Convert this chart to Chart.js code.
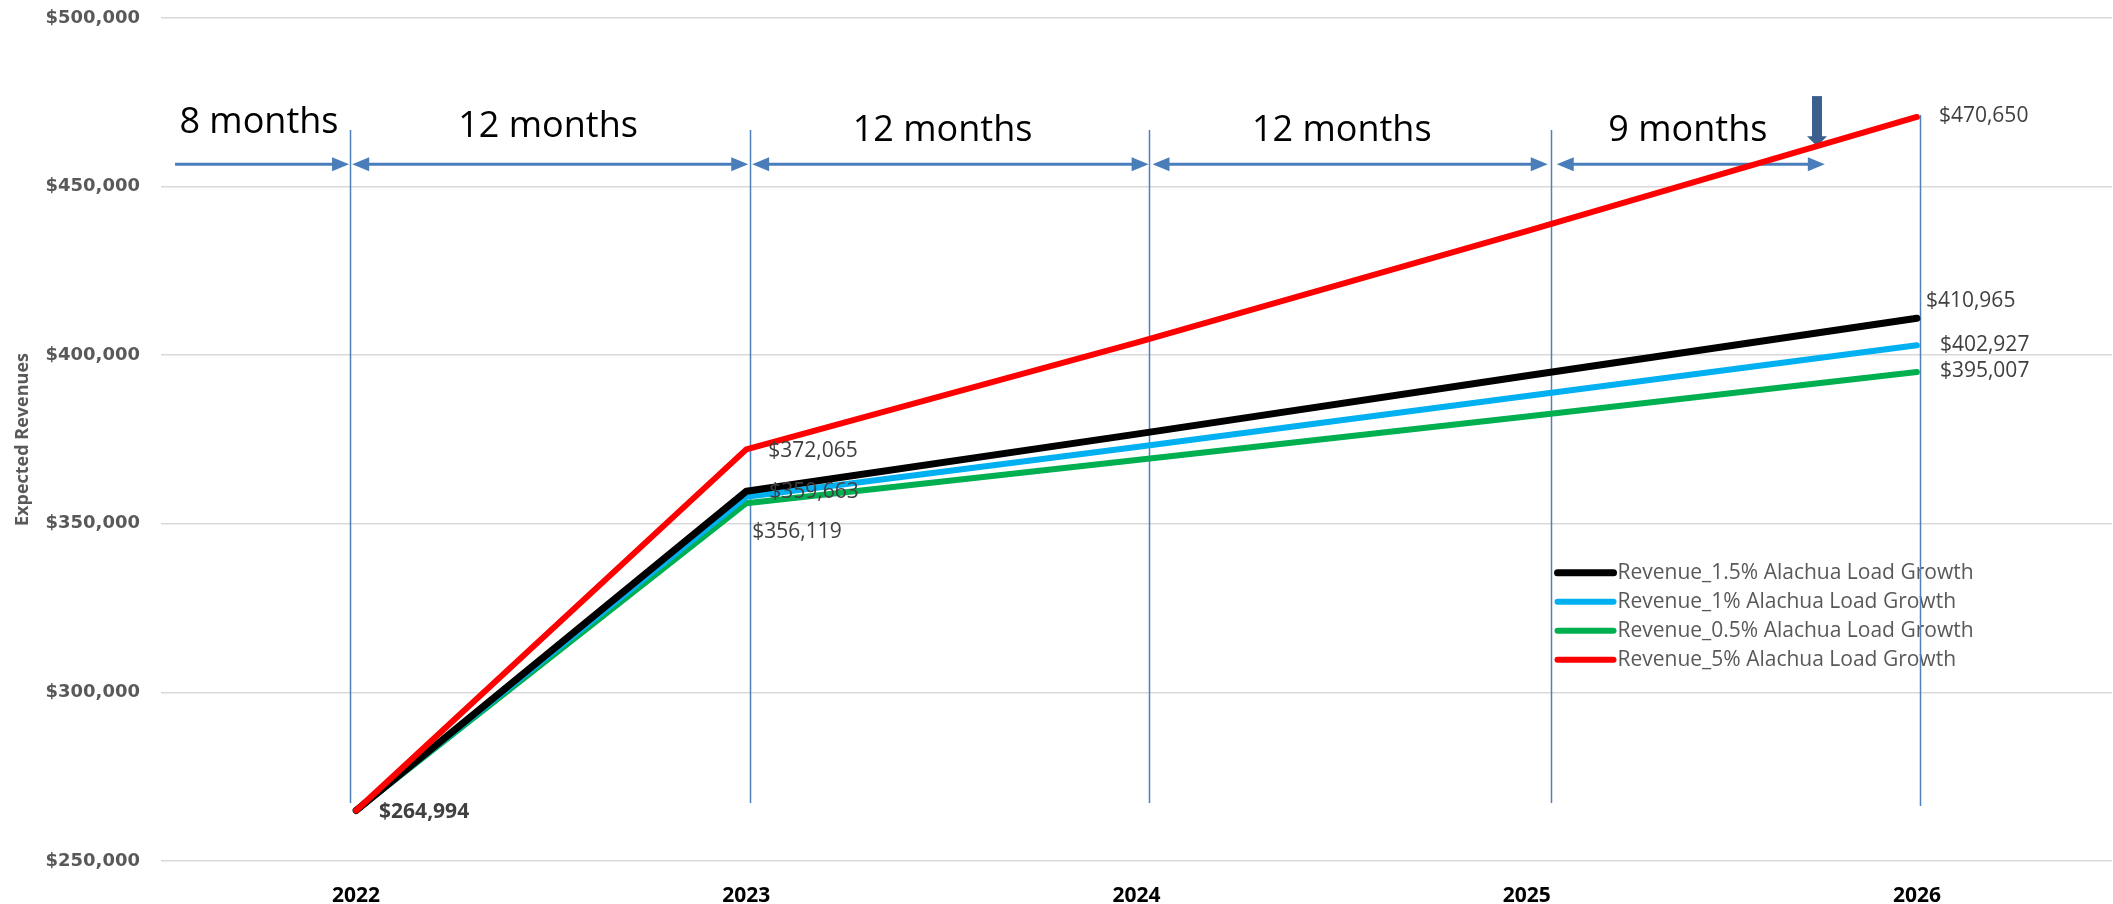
<!DOCTYPE html>
<html>
<head>
<meta charset="utf-8">
<script src="https://cdn.jsdelivr.net/npm/chart.js@4.4.0/dist/chart.umd.min.js"></script>
<style>
  html, body { margin: 0; padding: 0; background: #ffffff; }
  #wrap { width: 2113px; height: 904px; }
</style>
</head>
<body>
<div id="wrap"><canvas id="chart" width="2113" height="904"></canvas></div>
<script>
// Expected revenues under the four Alachua load-growth scenarios

const years = ['2022', '2023', '2024', '2025', '2026'];

const revenue15 = [264994, 359663, 376600, 393900, 410965];
const revenue10 = [264994, 358000, 372800, 387900, 402927];
const revenue05 = [264994, 356119, 368900, 381800, 395007];
const revenue50 = [264994, 372065, 403700, 436800, 470650];

const seriesNames = [
    'Revenue_1.5% Alachua Load Growth',
    'Revenue_1% Alachua Load Growth',
    'Revenue_0.5% Alachua Load Growth',
    'Revenue_5% Alachua Load Growth'
];

const periodLabels = ['8 months', '12 months', '12 months', '12 months', '9 months'];

const money = v => '$' + Math.round(v).toLocaleString('en-US');

// Overlay shapes (period markers), placed in axis units: x = category index, y = revenue
const guides = {
    lines: [
        { x: -0.015, top: 466750, bottom: 267230 },
        { x: 1.010, top: 466750, bottom: 267230 },
        { x: 2.033, top: 466750, bottom: 267230 },
        { x: 3.062, top: 466750, bottom: 267230 },
        { x: 4.008, top: 471200, bottom: 266330 }
    ],
    arrowY: 456650,
    arrows: [
        { from: -0.464, to: -0.018, startHead: false },
        { from: -0.010, to: 1.005, startHead: true },
        { from: 1.015, to: 2.031, startHead: true },
        { from: 2.041, to: 3.054, startHead: true },
        { from: 3.077, to: 3.764, startHead: true }
    ],
    labels: [
        { x: -0.249, y: 468830 },
        { x: 0.492, y: 467640 },
        { x: 1.503, y: 466450 },
        { x: 2.526, y: 466450 },
        { x: 3.413, y: 466450 }
    ],
    pointer: { x: 3.744, top: 476840, bottom: 462000 }
};

// Which points get a value label, and nudges in px
const valueLabels = [
    { ds: 0, i: 0, dx: 23, dy: 2, bold: true },
    { ds: 3, i: 1, dx: 22, dy: 2 },
    { ds: 0, i: 1, dx: 23, dy: 1 },
    { ds: 2, i: 1, dx: 6, dy: 29 },
    { ds: 3, i: 4, dx: 22, dy: -1 },
    { ds: 0, i: 4, dx: 9, dy: -17 },
    { ds: 1, i: 4, dx: 23, dy: 0 },
    { ds: 2, i: 4, dx: 23, dy: -1 }
];

function drawHead(ctx, x, y, dir) {
    ctx.beginPath();
    ctx.moveTo(x, y);
    ctx.lineTo(x - dir * 17, y - 7);
    ctx.lineTo(x - dir * 17, y + 7);
    ctx.closePath();
    ctx.fill();
}

const overlayPlugin = {
    id: 'overlay',
    beforeDatasetsDraw(chart) {
        const ctx = chart.ctx;
        const xs = chart.scales.x, ys = chart.scales.y;
        ctx.save();

        // legend box inside the plot
        const lx = xs.getPixelForValue(3.079);
        let ly = ys.getPixelForValue(335520);
        chart.data.datasets.forEach(ds => {
            ctx.strokeStyle = ds.borderColor;
            ctx.lineWidth = ds.borderWidth;
            ctx.lineCap = 'round';
            ctx.beginPath();
            ctx.moveTo(lx, ly);
            ctx.lineTo(lx + 56, ly);
            ctx.stroke();
            ctx.fillStyle = '#595959';
            ctx.font = '21px "Open Sans"';
            ctx.textAlign = 'left';
            ctx.textBaseline = 'middle';
            ctx.fillText(ds.label, lx + 60, ly);
            ly += 29;
        });

        // vertical period markers
        ctx.strokeStyle = '#4F81BD';
        ctx.lineWidth = 1.5;
        ctx.lineCap = 'butt';
        guides.lines.forEach(g => {
            const x = Math.round(xs.getPixelForValue(g.x)) + 0.5;
            ctx.beginPath();
            ctx.moveTo(x, ys.getPixelForValue(g.top));
            ctx.lineTo(x, ys.getPixelForValue(g.bottom));
            ctx.stroke();
        });

        // horizontal span arrows
        const ay = ys.getPixelForValue(guides.arrowY);
        ctx.strokeStyle = '#4A7EBB';
        ctx.fillStyle = '#4A7EBB';
        ctx.lineWidth = 3;
        guides.arrows.forEach(a => {
            const x0 = xs.getPixelForValue(a.from);
            const x1 = xs.getPixelForValue(a.to);
            ctx.beginPath();
            ctx.moveTo(a.startHead ? x0 + 10 : x0, ay);
            ctx.lineTo(x1 - 10, ay);
            ctx.stroke();
            drawHead(ctx, x1, ay, 1);
            if (a.startHead) drawHead(ctx, x0, ay, -1);
        });

        // period captions
        ctx.fillStyle = '#000000';
        ctx.font = '36px "Open Sans"';
        ctx.textAlign = 'center';
        ctx.textBaseline = 'middle';
        guides.labels.forEach((l, k) => {
            ctx.fillText(periodLabels[k], xs.getPixelForValue(l.x), ys.getPixelForValue(l.y));
        });

        // down pointer
        const p = guides.pointer;
        const px = xs.getPixelForValue(p.x);
        const pt = ys.getPixelForValue(p.top);
        const pb = ys.getPixelForValue(p.bottom);
        ctx.fillStyle = '#3C5F8E';
        ctx.fillRect(px - 5, pt, 10, pb - pt - 9);
        ctx.beginPath();
        ctx.moveTo(px - 10, pb - 10);
        ctx.lineTo(px + 10, pb - 10);
        ctx.lineTo(px, pb);
        ctx.closePath();
        ctx.fill();

        ctx.restore();
    },
    afterDatasetsDraw(chart) {
        const ctx = chart.ctx;
        ctx.save();
        ctx.textAlign = 'left';
        ctx.textBaseline = 'middle';
        valueLabels.forEach(l => {
            const pt = chart.getDatasetMeta(l.ds).data[l.i];
            const v = chart.data.datasets[l.ds].data[l.i];
            ctx.fillStyle = '#404040';
            ctx.font = (l.bold ? 'bold ' : '') + '21px "Open Sans"';
            ctx.fillText(money(v), pt.x + l.dx, pt.y + l.dy);
        });
        ctx.restore();
    }
};

function lineSet(label, data, color, width, order) {
    return {
        label: label,
        data: data,
        borderColor: color,
        backgroundColor: color,
        borderWidth: width,
        borderCapStyle: 'round',
        borderJoinStyle: 'round',
        pointRadius: 0,
        fill: false,
        tension: 0,
        order: order
    };
}

new Chart(document.getElementById('chart'), {
    type: 'line',
    data: {
        labels: years,
        datasets: [
            lineSet(seriesNames[0], revenue15, '#000000', 7, 1),
            lineSet(seriesNames[1], revenue10, '#00B0F0', 6, 2),
            lineSet(seriesNames[2], revenue05, '#00B050', 6, 3),
            lineSet(seriesNames[3], revenue50, '#FF0000', 6, 0)
        ]
    },
    options: {
        responsive: false,
        animation: false,
        devicePixelRatio: 1,
        layout: { padding: { top: 18, right: 1, left: 0, bottom: 0 } },
        plugins: {
            legend: { display: false },
            tooltip: { enabled: false }
        },
        scales: {
            x: {
                offset: true,
                grid: { display: false },
                border: { display: false },
                ticks: {
                    color: '#000000',
                    padding: 14,
                    font: { family: 'Open Sans', size: 21, weight: 'bold' }
                },
                afterFit: s => { s.height = 43; }
            },
            y: {
                min: 250000,
                max: 500000,
                border: { display: false },
                grid: { color: '#D9D9D9', lineWidth: 1.5, drawTicks: false },
                ticks: {
                    stepSize: 50000,
                    padding: 21,
                    color: '#595959',
                    font: { family: 'DejaVu Sans', size: 18, weight: 'bold' },
                    callback: v => money(v)
                },
                title: {
                    display: true,
                    text: 'Expected Revenues',
                    color: '#595959',
                    font: { family: 'Open Sans', size: 18, weight: 'bold' },
                    padding: { top: 12, bottom: 0 }
                },
                afterFit: s => {
                    s.width = 161;
                    s.paddingTop = 0;
                    s.paddingBottom = 0;
                }
            }
        }
    },
    plugins: [overlayPlugin]
});
</script>
</body>
</html>
